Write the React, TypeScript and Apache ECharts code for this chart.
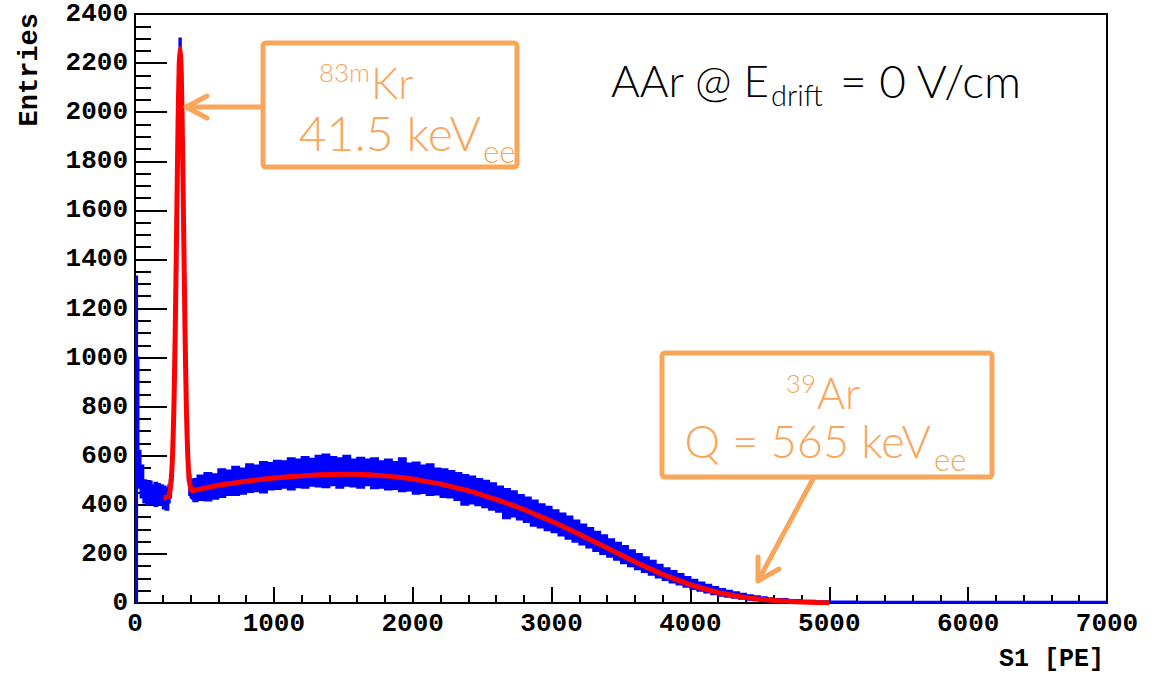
import React, { useEffect, useRef } from "react";
import * as echarts from "echarts";

// Histogram (blue): bin lower edges, upper and lower envelope of the noisy band
const BLUE_X = [
  0, 15, 25, 40, 60, 80, 100, 120, 140, 160, 180, 200, 220, 240,
  250, 260, 270, 280, 290, 300, 310, 320, 330, 340, 350, 360, 370, 380, 390, 400, 410,
  420, 450, 500, 550, 600, 650, 700, 750, 800, 850, 900, 950, 1000, 1050, 1100, 1150,
  1200, 1250, 1300, 1350, 1400, 1450, 1500, 1550, 1600, 1650, 1700, 1750, 1800, 1850,
  1900, 1950, 2000, 2050, 2100, 2150, 2200, 2250, 2300, 2350, 2400, 2450, 2500, 2550,
  2600, 2650, 2700, 2750, 2800, 2850, 2900, 2950, 3000, 3050, 3100, 3150, 3200, 3250,
  3300, 3350, 3400, 3450, 3500, 3550, 3600, 3650, 3700, 3750, 3800, 3850, 3900, 3950,
  4000, 4050, 4100, 4150, 4200, 4250, 4300, 4350, 4400, 4450, 4500, 4550, 4600, 4700,
  4800, 4900, 5000, 5200, 5400, 5600, 5800, 6000, 6200, 6400, 6600, 6800, 7000,
];
const BLUE_HI = [
  1330, 1000, 620, 560, 500, 490, 495, 480, 490, 485, 480, 475, 470, 480,
  500, 580, 720, 980, 1360, 1800, 2160, 2300, 2160, 1800, 1360, 980, 720, 580, 520, 500, 495,
  505, 520, 530, 525, 545, 540, 555, 548, 565, 560, 575, 570, 580, 578, 590, 585,
  595, 588, 600, 605, 595, 590, 600, 585, 592, 585, 590, 578, 585, 575,
  590, 568, 572, 560, 565, 548, 545, 538, 530, 522, 515, 505, 498, 488,
  475, 465, 455, 440, 430, 418, 402, 392, 378, 365, 352, 336, 320, 306,
  290, 276, 260, 245, 232, 215, 200, 186, 172, 156, 142, 130, 118, 106,
  95, 84, 74, 65, 57, 50, 44, 38, 32, 27, 23, 19, 16, 12,
  9, 7, 6, 5, 5, 5, 5, 5, 5, 5, 5, 5, 5,
];
const BLUE_LO = [
  0, 560, 470, 430, 410, 400, 405, 400, 395, 400, 405, 385, 380, 410,
  430, 500, 650, 910, 1290, 1720, 2080, 2220, 2080, 1720, 1290, 910, 650, 500, 440, 430, 425,
  415, 420, 418, 425, 432, 440, 440, 445, 452, 455, 450, 462, 465, 470, 462, 472,
  470, 478, 475, 472, 480, 470, 478, 475, 470, 480, 468, 470, 462, 465,
  455, 458, 445, 448, 440, 442, 432, 430, 420, 400, 405, 398, 390, 380,
  372, 345, 352, 340, 330, 315, 308, 296, 288, 275, 262, 250, 238, 226,
  212, 200, 188, 176, 162, 150, 138, 126, 115, 104, 94, 84, 75, 66,
  57, 50, 43, 36, 30, 25, 21, 17, 13, 11, 8, 6, 4, 2,
  1, 0, 0, 0, 0, 0, 0, 0, 0, 0, 0, 0, 0,
];

// Fit (red)
const RED_X = [
  205, 225, 240, 250, 260, 270, 280, 290, 300, 310, 318, 325, 332, 340, 350, 360, 370, 380,
  390, 400, 410, 430, 450, 500, 600, 700, 800, 900, 1000, 1100, 1200, 1300, 1400, 1500,
  1600, 1700, 1800, 1900, 2000, 2100, 2200, 2300, 2400, 2500, 2600, 2700, 2800, 2900,
  3000, 3100, 3200, 3300, 3400, 3500, 3600, 3700, 3800, 3900, 4000, 4100, 4200, 4300,
  4400, 4500, 4600, 4700, 4800, 4900, 5000,
];
const RED_Y = [
  428, 430, 434, 450, 495, 595, 795, 1115, 1540, 1955, 2185, 2260, 2185, 1955, 1540, 1115, 795, 600,
  505, 470, 458, 459, 462, 468, 480, 488, 496, 503, 509, 514, 518, 522, 524, 525,
  525, 522, 518, 512, 505, 495, 485, 471, 458, 440, 422, 402, 381, 357,
  333, 307, 280, 252, 224, 196, 168, 142, 117, 95, 75, 58, 43, 32,
  22, 15, 10, 7, 4, 2, 1,
];

const X_MIN = 0;
const X_MAX = 7000;
const X_STEP = 1000;
const Y_MIN = 0;
const Y_MAX = 2400;
const Y_STEP = 200;

const ORANGE = "#F9A65A";
const BLUE = "#0000FF";
const TICK_FONT = "'Liberation Mono', 'Courier New', monospace";
const ANN_FONT = "Lato, 'Open Sans', sans-serif";

export default function App() {
  const ref = useRef<HTMLDivElement>(null);
  useEffect(() => {
    if (!ref.current) return;
    const chart = echarts.init(ref.current, null, { renderer: "svg" });
    const redData = RED_X.map((x, i) => [x, RED_Y[i]]);

    const renderBand = (params: any, api: any) => {
      const upper: number[][] = [];
      const lower: number[][] = [];
      for (let i = 0; i < BLUE_X.length; i++) {
        const x0 = BLUE_X[i];
        const x1 = i + 1 < BLUE_X.length ? BLUE_X[i + 1] : X_MAX;
        upper.push(api.coord([x0, BLUE_HI[i]]));
        upper.push(api.coord([x1, BLUE_HI[i]]));
        lower.push(api.coord([x0, BLUE_LO[i]]));
        lower.push(api.coord([x1, BLUE_LO[i]]));
      }
      const points = upper.concat(lower.reverse());
      return {
        type: "polygon",
        shape: { points },
        style: { fill: BLUE, stroke: BLUE, lineWidth: 2, lineJoin: "miter" },
      };
    };

    const txt = (
      text: string, x: number, y: number, size: number, align: string, color = ORANGE
    ) => ({
      type: "text",
      x,
      y,
      z: 100,
      style: {
        text,
        fill: color,
        font: `300 ${size}px ${ANN_FONT}`,
        textAlign: align,
        textVerticalAlign: "middle",
      },
    });
    const stroke = { stroke: ORANGE, lineWidth: 5, fill: "none", lineCap: "round", lineJoin: "round" };
    chart.setOption({
      animation: false,
      backgroundColor: "#fff",
      grid: {
        left: 135,
        right: 46,
        top: 14,
        bottom: 70,
        show: true,
        borderColor: "#000",
        borderWidth: 2,
        backgroundColor: "transparent",
      },
      xAxis: {
        type: "value",
        min: X_MIN,
        max: X_MAX,
        interval: X_STEP,
        axisLine: { show: true, onZero: false, lineStyle: { color: "#000", width: 2 } },
        axisTick: { show: true, inside: true, length: 16, lineStyle: { color: "#000", width: 2 } },
        minorTick: { show: true, splitNumber: 5, length: 8, lineStyle: { color: "#000", width: 2 } },
        splitLine: { show: false },
        axisLabel: {
          color: "#000",
          fontFamily: TICK_FONT,
          fontWeight: "bold",
          fontSize: 26,
          margin: 8,
          formatter: (v: number) => String(v),
        },
      },
      yAxis: {
        type: "value",
        min: Y_MIN,
        max: Y_MAX,
        interval: Y_STEP,
        axisLine: { show: true, onZero: false, lineStyle: { color: "#000", width: 2 } },
        axisTick: { show: true, inside: true, length: 32, lineStyle: { color: "#000", width: 2 } },
        minorTick: { show: true, splitNumber: 4, length: 16, lineStyle: { color: "#000", width: 2 } },
        splitLine: { show: false },
        axisLabel: {
          color: "#000",
          fontFamily: TICK_FONT,
          fontWeight: "bold",
          fontSize: 26,
          margin: 7,
          formatter: (v: number) => String(v),
        },
      },
      series: [
        {
          type: "custom",
          name: "S1 histogram",
          data: [[X_MIN, Y_MIN]],
          renderItem: renderBand,
          clip: true,
          silent: true,
          z: 2,
        },
        {
          type: "line",
          name: "fit",
          data: redData,
          smooth: 0.2,
          symbol: "none",
          lineStyle: { color: "#FF0000", width: 5 },
          z: 3,
        },
      ],
      graphic: [
        {
          type: "text",
          x: 30,
          y: 13,
          rotation: Math.PI / 2,
          style: {
            text: "Entries",
            fill: "#000",
            font: `bold 27px ${TICK_FONT}`,
            textAlign: "right",
            textVerticalAlign: "middle",
          },
        },
        {
          type: "text",
          x: 1104,
          y: 659,
          style: {
            text: "S1 [PE]",
            fill: "#000",
            font: `bold 25px ${TICK_FONT}`,
            textAlign: "right",
            textVerticalAlign: "middle",
          },
        },
        // Kr box
        { type: "rect", z: 100, shape: { x: 263, y: 43, width: 254, height: 124, r: 3 }, style: stroke },
        { type: "line", z: 100, shape: { x1: 261, y1: 107, x2: 188, y2: 107 }, style: stroke },
        { type: "polyline", z: 100, shape: { points: [[207, 96], [186, 107], [207, 118]] }, style: stroke },
        txt("83m", 370, 72, 26, "right"),
        txt("Kr", 371, 82, 43, "left"),
        txt("41.5 keV", 481, 132, 48, "right"),
        txt("ee", 483, 151, 31, "left"),
        // Ar box
        { type: "rect", z: 100, shape: { x: 662, y: 353, width: 330, height: 124, r: 3 }, style: stroke },
        { type: "line", z: 100, shape: { x1: 813, y1: 479, x2: 759, y2: 579 }, style: stroke },
        { type: "polyline", z: 100, shape: { points: [[758, 557], [758, 581], [779, 569]] }, style: stroke },
        txt("39", 816, 383, 26, "right"),
        txt("Ar", 817, 392, 43, "left"),
        txt("Q = 565 keV", 931, 441, 45, "right"),
        txt("ee", 934, 459, 31, "left"),
        // Title
        txt("AAr @ E", 769, 80, 44, "right", "#000"),
        txt("drift", 771, 94, 29, "left", "#000"),
        txt("= 0 V/cm", 840, 80, 46, "left", "#000"),
      ],
    });
    return () => chart.dispose();
  }, []);
  return (
    <div
      ref={ref}
      style={{ position: "fixed", left: 0, top: 0, width: 1153, height: 673, background: "#fff" }}
    />
  );
}
